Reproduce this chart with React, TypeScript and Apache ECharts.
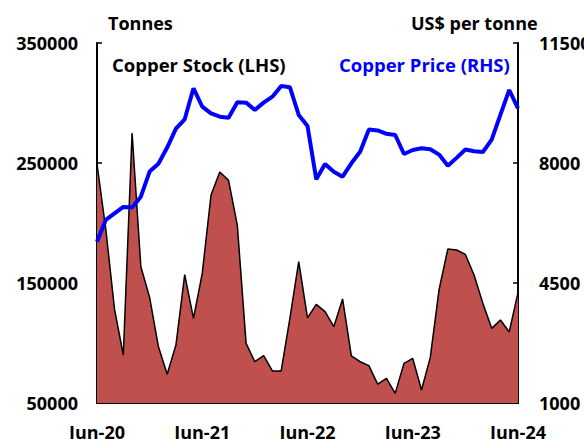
import React, { useEffect, useRef } from "react";
import * as echarts from "echarts";

const monthNames = ["Jan", "Feb", "Mar", "Apr", "May", "Jun", "Jul", "Aug", "Sep", "Oct", "Nov", "Dec"];
const categories: string[] = [];
for (let k = 0; k < 49; k++) {
  const m = (5 + k) % 12;
  const y = 20 + Math.floor((5 + k) / 12);
  categories.push(`${monthNames[m]}-${y}`);
}

const copperStock = [
  249000, 195000, 128000, 90000, 275000, 163600, 138000, 97000, 74000, 98300, 157000, 120600,
  158000, 223300, 242500, 235500, 198000, 99700, 84400, 89400, 76700, 76700, 121000, 167800,
  121000, 132200, 126100, 113600, 136700, 89200, 84400, 81100, 65700, 70600, 58000, 83000,
  87200, 60800, 88000, 144500, 178300, 177500, 173800, 156500, 133000, 112200, 119200, 109200,
  142000,
];

const copperPrice = [
  5705, 6340, 6533, 6720, 6700, 7017, 7750, 7980, 8450, 9000, 9275, 10180,
  9643, 9449, 9352, 9322, 9775, 9760, 9546, 9760, 9935, 10246, 10208, 9400,
  9079, 7524, 7971, 7747, 7601, 7991, 8330, 8975, 8950, 8850, 8817, 8263,
  8380, 8428, 8400, 8245, 7918, 8150, 8395, 8345, 8320, 8680, 9410, 10129,
  9595,
];

const leftAxis = { min: 50000, max: 350000, interval: 100000 };
const rightAxis = { min: 1000, max: 11500, interval: 3500 };

const FONT = "'Open Sans', sans-serif";

export default function App() {
  const ref = useRef<HTMLDivElement>(null);
  useEffect(() => {
    if (!ref.current) return;
    const chart = echarts.init(ref.current, undefined, { renderer: "svg", width: 584, height: 439 });
    const labelStyle = { color: "#000", fontFamily: FONT, fontWeight: "bold" as const, fontSize: 18 };
    const textStyle = { fontFamily: FONT, fontWeight: "bold" as const, fontSize: 18 };
    chart.setOption({
      animation: false,
      backgroundColor: "#fff",
      grid: { left: 97, width: 421, top: 43, height: 360, containLabel: false, outerBoundsMode: "none" },
      xAxis: {
        type: "category",
        data: categories,
        boundaryGap: false,
        axisLine: { lineStyle: { color: "#000", width: 2 } },
        axisTick: { inside: true, length: 5, interval: 11, lineStyle: { color: "#000", width: 1.5 } },
        axisLabel: { ...labelStyle, interval: 11, margin: 20 },
        splitLine: { show: false },
      },
      yAxis: [
        {
          type: "value",
          ...leftAxis,
          position: "left",
          axisLine: { show: true, lineStyle: { color: "#000", width: 2 } },
          axisTick: { show: true, inside: true, length: 5, lineStyle: { color: "#000", width: 1.5 } },
          axisLabel: { ...labelStyle, margin: 19, formatter: (v: number) => String(v) },
          splitLine: { show: false },
        },
        {
          type: "value",
          ...rightAxis,
          position: "right",
          axisLine: { show: true, lineStyle: { color: "#000", width: 2 } },
          axisTick: { show: true, inside: true, length: 5, lineStyle: { color: "#000", width: 1.5 } },
          axisLabel: { ...labelStyle, margin: 21, formatter: (v: number) => String(v) },
          splitLine: { show: false },
        },
      ],
      graphic: [
        { type: "text", left: 108, top: 14, style: { text: "Tonnes", ...textStyle, fill: "#000" } },
        { type: "text", left: 411, top: 14, style: { text: "US$ per tonne", ...textStyle, fill: "#000" } },
        { type: "text", left: 112, top: 55, style: { text: "Copper Stock (LHS)", ...textStyle, fontSize: 18.5, fill: "#000" } },
        { type: "text", left: 339, top: 55, style: { text: "Copper Price (RHS)", ...textStyle, fontSize: 18.5, fill: "#0000FF" } },
      ],
      series: [
        {
          name: "Copper Stock (LHS)",
          type: "line",
          yAxisIndex: 0,
          data: copperStock,
          symbol: "none",
          lineStyle: { color: "#000", width: 1.5 },
          areaStyle: { color: "#C0504D", opacity: 1 },
          z: 2,
        },
        {
          name: "Copper Price (RHS)",
          type: "line",
          yAxisIndex: 1,
          data: copperPrice,
          symbol: "none",
          lineStyle: { color: "#0000FF", width: 4 },
          z: 3,
        },
      ],
    });
    return () => chart.dispose();
  }, []);
  return (
    <div
      ref={ref}
      style={{ position: "fixed", left: 0, top: 0, width: 584, height: 439, overflow: "hidden" }}
    />
  );
}
